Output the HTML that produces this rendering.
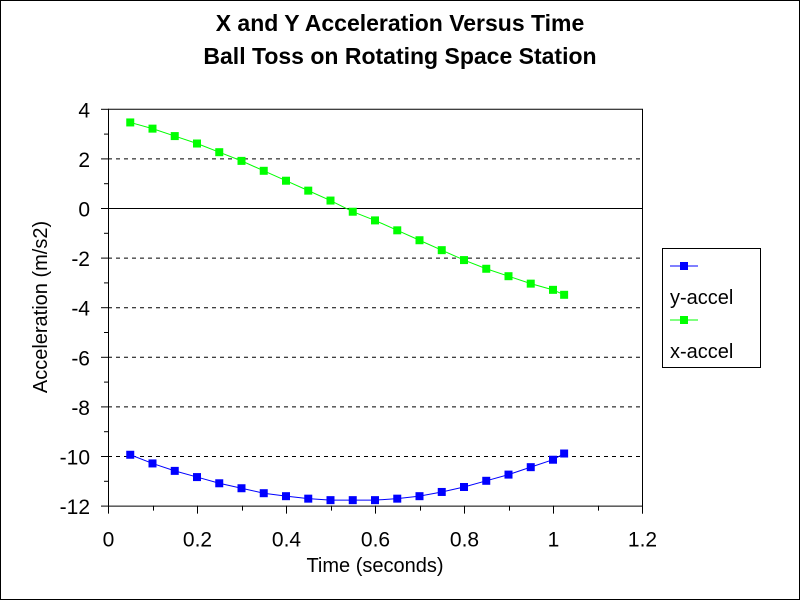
<!DOCTYPE html><html><head><style>body{margin:0}svg{display:block;font-family:"Liberation Sans",Arial,sans-serif}</style></head><body>
<svg id="s" width="800" height="600" xmlns="http://www.w3.org/2000/svg">
<rect x="0.5" y="0.5" width="799" height="599" fill="#fff" stroke="#000"/>
<text x="400" y="31" font-size="23" font-weight="bold" text-anchor="middle">X and Y Acceleration Versus Time</text>
<text x="400" y="64" font-size="23" font-weight="bold" text-anchor="middle">Ball Toss on Rotating Space Station</text>
<g id="g"></g>
<text x="375" y="572" font-size="20" text-anchor="middle">Time (seconds)</text>
<text transform="translate(47,307) rotate(-90)" font-size="20" text-anchor="middle">Acceleration (m/s2)</text>
<rect x="662.5" y="248.5" width="98" height="119" fill="#fff" stroke="#000"/>
<line x1="670" y1="266" x2="698" y2="266" stroke="#00f"/><rect x="680" y="262" width="8" height="8" fill="#00f"/>
<text x="670" y="304" font-size="20">y-accel</text>
<line x1="670" y1="320" x2="698" y2="320" stroke="#0f0"/><rect x="680" y="316" width="8" height="8" fill="#0f0"/>
<text x="670" y="358" font-size="20">x-accel</text>
</svg>
<script>
var g=document.getElementById('g'),h='';
function X(t){return 108+t*445}function Y(v){return 208-v*24.8}
for(var v=-10;v<=2;v+=2){if(v==0)continue;h+='<line x1="108" x2="642" y1="'+(Y(v)+.5)+'" y2="'+(Y(v)+.5)+'" stroke="#000" stroke-dasharray="4,4"/>';}
h+='<line x1="108" x2="642" y1="'+(Y(4)+.5)+'" y2="'+(Y(4)+.5)+'" stroke="#000"/>';
h+='<line x1="108" x2="642" y1="'+(Y(0)+.5)+'" y2="'+(Y(0)+.5)+'" stroke="#000"/>';
h+='<line x1="108" x2="642" y1="'+(Y(-12)+.5)+'" y2="'+(Y(-12)+.5)+'" stroke="#000"/>';
h+='<line x1="108.5" x2="108.5" y1="'+Y(4)+'" y2="'+Y(-12)+'" stroke="#000"/>';
h+='<line x1="642.5" x2="642.5" y1="'+Y(4)+'" y2="'+(Y(-12)+8)+'" stroke="#000"/>';
for(var v=-12;v<=4;v++){var y=Y(v)+.5;h+='<line x1="'+(v%2==0?101:104)+'" x2="108" y1="'+y+'" y2="'+y+'" stroke="#000"/>';if(v%2==0)h+='<text x="90" y="'+(y+8)+'" font-size="21" text-anchor="end">'+v+'</text>';}
for(var i=0;i<=12;i++){var x=Math.round(X(i/10))+.5;h+='<line x1="'+x+'" x2="'+x+'" y1="'+Y(-12)+'" y2="'+(Y(-12)+(i%2==0?8:5))+'" stroke="#000"/>';if(i%2==0)h+='<text x="'+x+'" y="'+(Y(-12)+41)+'" font-size="21" text-anchor="middle">'+(i==0?'0':i==10?'1':(i/10).toString())+'</text>';}
var gr=[3.45,3.2,2.9,2.6,2.25,1.9,1.5,1.1,0.7,0.3,-0.15,-0.5,-0.9,-1.3,-1.7,-2.1,-2.45,-2.75,-3.05,-3.3,-3.5];
var bl=[-9.95,-10.3,-10.6,-10.85,-11.1,-11.3,-11.5,-11.62,-11.72,-11.78,-11.78,-11.78,-11.72,-11.62,-11.45,-11.25,-11.0,-10.75,-10.45,-10.15,-9.9];
function ser(d,c){var p=[],m='';for(var i=0;i<d.length;i++){var t=i<20?0.05*(i+1):1.025;var x=X(t),y=Y(d[i]);p.push(x+','+y);m+='<rect x="'+(x-4)+'" y="'+(y-4)+'" width="8" height="8" fill="'+c+'"/>';}return '<polyline points="'+p.join(' ')+'" fill="none" stroke="'+c+'"/>'+m;}
h+=ser(gr,'#0f0')+ser(bl,'#00f');
g.innerHTML=h;
</script></body></html>
